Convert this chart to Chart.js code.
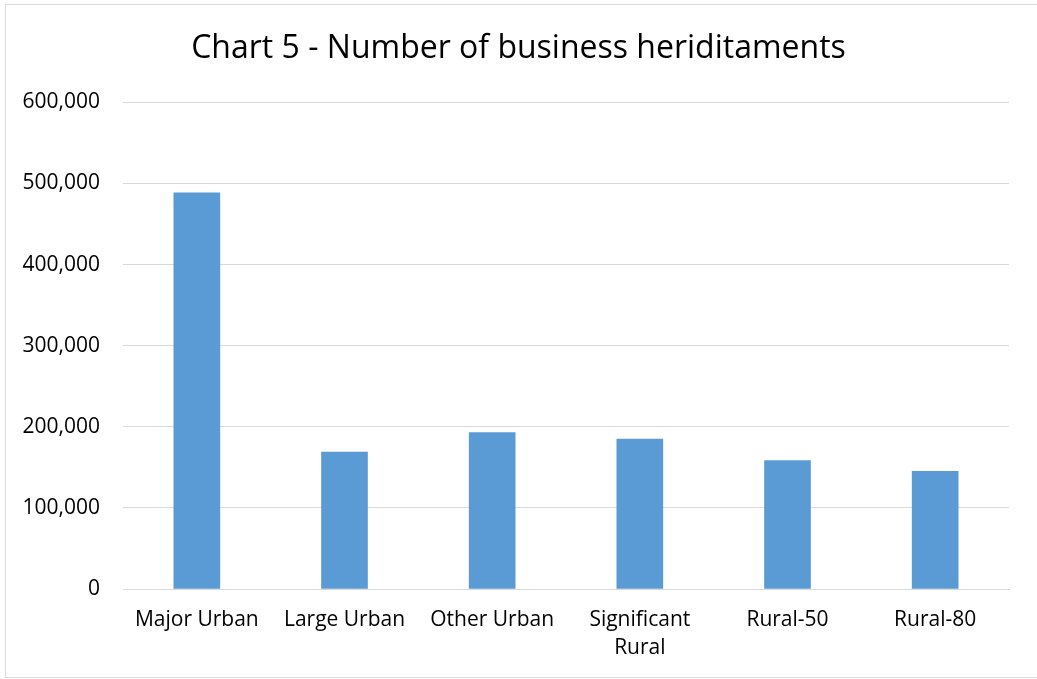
<!DOCTYPE html>
<html>
<head>
<meta charset="utf-8">
<script src="https://cdn.jsdelivr.net/npm/chart.js"></script>
<style>
  html, body { margin: 0; padding: 0; background: #fff; }
  #wrap { position: relative; width: 1037px; height: 679px; }
  #frame { position: absolute; left: 5px; top: 4px; width: 1040px; height: 674px; border: 1px solid #d9d9d9; box-sizing: border-box; pointer-events: none; }
  canvas { position: absolute; left: 0; top: 0; }
</style>
</head>
<body>
<div id="wrap">
  <canvas id="chart_5" width="1037" height="679"></canvas>
  <div id="frame"></div>
</div>
<script>
  // number of business hereditaments by area type
  const categories = ['Major Urban', 'Large Urban', 'Other Urban', ['Significant', 'Rural'], 'Rural-50', 'Rural-80']
  const heriditaments = [488500, 168800, 193000, 184800, 158500, 145000]
  const yTicks = [0, 100000, 200000, 300000, 400000, 500000, 600000]

  const labelFont = { family: '"Open Sans", "DejaVu Sans", sans-serif', size: 21, lineHeight: 1.33 }

  new Chart(document.getElementById('chart_5'), {
    type: 'bar',
    data: {
      labels: categories,
      datasets: [{
        label: 'Heriditaments',
        data: heriditaments,
        backgroundColor: '#5b9bd5',
        borderWidth: 0,
        barThickness: 46,
        yAxisID: 'y'
      }]
    },
    options: {
      responsive: false,
      animation: false,
      layout: { padding: 0 },
      plugins: {
        legend: { display: false },
        tooltip: { enabled: false },
        title: {
          display: true,
          text: 'Chart 5 - Number of business heriditaments',
          color: '#000',
          font: { family: '"Open Sans", sans-serif', size: 32, weight: 'normal', lineHeight: 1.2 },
          padding: { top: 30, bottom: 34 }
        }
      },
      scales: {
        x: {
          grid: { display: false, drawTicks: false },
          border: { display: true, color: '#d9d9d9', width: 1 },
          ticks: { color: '#000', font: labelFont, padding: 17, maxRotation: 0, autoSkip: false },
          afterFit: (scale) => { scale.height = 90 }
        },
        y: {
          min: yTicks[0],
          max: yTicks[yTicks.length - 1],
          afterBuildTicks: (scale) => { scale.ticks = yTicks.map(v => ({ value: v })) },
          grid: { color: '#d9d9d9', lineWidth: 1, drawTicks: false },
          border: { display: false },
          ticks: {
            color: '#000',
            font: labelFont,
            padding: 23,
            callback: (v) => v.toLocaleString('en-GB')
          },
          afterFit: (scale) => { scale.width = 123 }
        },
        // empty right-hand axis: just reserves the right margin so the title stays page-centred
        yRight: {
          position: 'right',
          min: yTicks[0],
          max: yTicks[yTicks.length - 1],
          grid: { display: false, drawTicks: false },
          border: { display: false },
          ticks: { display: false },
          afterFit: (scale) => { scale.width = 28 }
        }
      }
    }
  })
</script>
</body>
</html>
